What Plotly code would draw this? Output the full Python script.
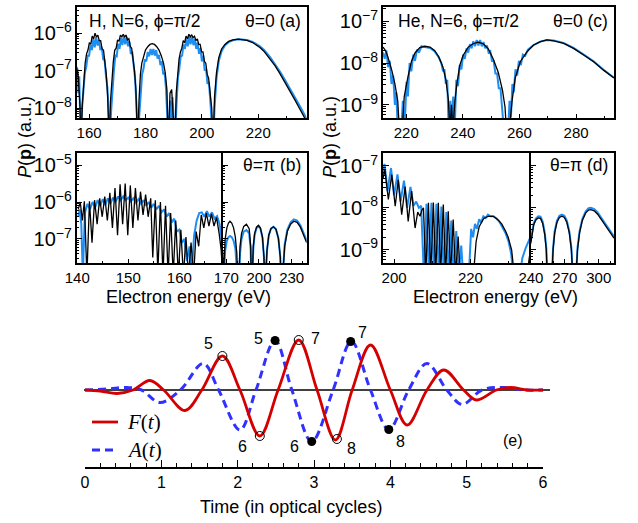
import plotly.graph_objects as go

# ---------------- data (log10 of P in a.u.) ----------------
# panel (a): H, theta=0
a_E_blue = [155.6, 155.9, 156.2, 156.5, 156.8, 157.0, 157.5, 158.0, 158.5, 159.0,
            159.5, 160.0, 160.5, 161.0, 161.5, 162.0, 162.5, 163.0, 163.5, 164.0,
            164.5, 165.0, 165.5, 166.0, 166.5, 167.0, 167.3, 167.8, 168.3, 168.8,
            169.3, 169.8, 170.3, 170.8, 171.3, 171.8, 172.3, 172.8, 173.3, 173.8,
            174.3, 174.8, 175.3, 175.8, 176.3, 176.8, 177.3, 177.8, 178.3, 178.8,
            179.3, 179.8, 180.3, 180.8, 181.3, 181.8, 182.3, 182.8, 183.3, 183.8,
            184.3, 184.8, 185.3, 185.8, 186.3, 186.8, 187.3, 187.8, 188.2, 188.7,
            189.2, 189.6, 190.1, 190.5, 191.0, 191.5, 192.0, 192.5, 193.0, 193.5,
            194.0, 194.5, 195.0, 195.5, 196.0, 196.5, 197.0, 197.5, 198.0, 198.5,
            199.0, 199.5, 200.0, 200.5, 201.0, 201.5, 202.0, 202.5, 203.0, 203.5,
            204.0, 204.5, 205.2, 206.0, 207.0, 208.2, 209.5, 211.0, 213.0, 216.0,
            218.0, 220.6, 222.0, 224.2, 226.0, 227.7, 229.5, 231.3, 233.0, 234.8,
            236.6, 237.2]
a_logP_blue = [-7.3, -6.95, -7.6, -7.15, -8.1, -9.0, -8.0, -7.5, -7.05, -6.9,
               -6.6, -6.6, -6.32, -6.45, -6.15, -6.38, -6.1, -6.33, -6.18, -6.45,
               -6.38, -6.7, -6.72, -7.15, -7.45, -8.2, -9.0, -8.1, -7.4, -7.0,
               -6.6, -6.62, -6.28, -6.42, -6.13, -6.32, -6.08, -6.3, -6.1, -6.35,
               -6.22, -6.55, -6.5, -6.9, -7.2, -7.9, -9.0, -8.2, -7.5, -7.1,
               -6.95, -6.7, -6.75, -6.5, -6.62, -6.42, -6.58, -6.42, -6.6, -6.45,
               -6.68, -6.58, -6.85, -6.75, -7.1, -7.05, -7.5, -8.2, -9.0, -7.8,
               -8.3, -7.7, -9.0, -9.0, -7.9, -7.2, -6.95, -6.62, -6.6, -6.3,
               -6.42, -6.15, -6.35, -6.1, -6.3, -6.1, -6.32, -6.15, -6.42, -6.25,
               -6.55, -6.4, -6.75, -6.6, -7.0, -6.95, -7.35, -7.3, -7.8, -8.3,
               -9.0, -8.0, -7.2, -6.75, -6.48, -6.32, -6.24, -6.19, -6.16, -6.18,
               -6.23, -6.35, -6.44, -6.64, -6.82, -7.02, -7.25, -7.48, -7.7, -7.95,
               -8.2, -8.3]
a_E_black = [155.6, 156.2, 156.8, 157.1, 157.6, 158.1, 158.6, 159.1, 159.6, 160.1,
             160.6, 161.1, 161.6, 162.1, 162.6, 163.1, 163.6, 164.1, 164.6, 165.1,
             165.6, 166.1, 166.6, 167.1, 167.6, 168.1, 168.6, 169.1, 169.6, 170.1,
             170.6, 171.1, 171.6, 172.1, 172.6, 173.1, 173.6, 174.1, 174.6, 175.1,
             175.6, 176.1, 176.6, 177.2, 177.7, 178.2, 178.7, 179.3, 180.0, 180.8,
             181.6, 182.4, 183.2, 184.0, 184.8, 185.6, 186.4, 187.0, 187.6, 188.1,
             188.7, 189.3, 189.8, 190.4, 190.9, 191.4, 191.9, 192.4, 192.9, 193.4,
             193.9, 194.4, 194.9, 195.4, 195.9, 196.4, 196.9, 197.4, 197.9, 198.4,
             198.9, 199.4, 199.9, 200.4, 200.9, 201.4, 201.9, 202.4, 202.9, 203.5,
             204.0, 204.5, 205.2, 206.0, 207.0, 208.2, 209.5, 211.0, 213.0, 216.0,
             218.0, 220.6, 222.0, 224.2, 226.0, 227.7, 229.5, 231.3, 233.0, 234.8,
             236.6, 237.2]
a_logP_black = [-6.9, -7.2, -8.0, -9.0, -7.9, -7.2, -6.8, -6.55, -6.45, -6.25,
                -6.3, -6.08, -6.15, -6.0, -6.1, -6.05, -6.2, -6.2, -6.42, -6.45,
                -6.8, -7.1, -7.7, -9.0, -7.8, -7.1, -6.75, -6.45, -6.4, -6.18,
                -6.22, -6.05, -6.1, -6.03, -6.1, -6.05, -6.18, -6.15, -6.35, -6.4,
                -6.7, -7.0, -7.5, -9.0, -7.8, -7.1, -6.8, -6.6, -6.45, -6.36,
                -6.3, -6.28, -6.3, -6.36, -6.45, -6.6, -6.8, -7.05, -7.5, -9.0,
                -7.6, -7.5, -7.9, -9.0, -7.6, -7.0, -6.7, -6.5, -6.4, -6.2,
                -6.25, -6.08, -6.15, -6.03, -6.1, -6.04, -6.12, -6.08, -6.2, -6.15,
                -6.3, -6.3, -6.5, -6.5, -6.75, -6.8, -7.1, -7.2, -7.5, -8.0,
                -9.0, -7.7, -7.05, -6.65, -6.42, -6.3, -6.22, -6.18, -6.16, -6.19,
                -6.25, -6.38, -6.48, -6.68, -6.87, -7.08, -7.31, -7.55, -7.78, -8.03,
                -8.28, -8.36]

# panel (b): H, theta=pi  (left part and compressed right part)
bL_E_black = [140.2, 140.6, 141.0, 141.4, 141.9, 142.4, 142.9, 143.4, 143.9, 144.4,
              144.9, 145.4, 145.9, 146.4, 146.9, 147.4, 147.9, 148.4, 148.9, 149.4,
              149.9, 150.4, 150.9, 151.4, 151.9, 152.4, 152.9, 153.4, 153.9, 154.4,
              154.8, 155.3, 155.8, 156.3, 156.8, 157.3, 157.8, 158.3, 158.8, 159.3,
              159.8, 160.3, 160.8, 161.3, 161.8, 162.3, 162.8, 163.3, 163.8, 164.3,
              164.8, 165.3, 165.8, 166.3, 166.8, 167.3, 167.8, 168.2, 168.5]
bL_logP_black = [-6.2, -6.0, -6.5, -5.98, -8.0, -5.98, -7.1, -5.95, -6.6, -5.9,
                 -6.4, -5.85, -6.5, -5.75, -6.7, -5.62, -6.9, -5.52, -6.6, -5.5,
                 -6.9, -5.55, -6.7, -5.62, -6.5, -5.72, -6.35, -5.8, -6.4, -5.9,
                 -7.5, -5.95, -7.9, -6.0, -8.0, -6.1, -8.0, -6.3, -8.0, -6.5,
                 -8.0, -6.75, -8.0, -6.95, -8.0, -7.1, -8.0, -6.8, -7.2, -6.35,
                 -6.7, -6.3, -6.65, -6.32, -6.65, -6.42, -6.85, -7.3, -8.0]
bL_E_blue = [140.2, 140.5, 140.8, 141.1, 141.5, 142.0, 142.5, 143.0, 143.5, 144.0,
             144.5, 145.0, 145.5, 146.0, 146.5, 147.0, 147.5, 148.0, 148.5, 149.0,
             149.5, 150.0, 150.5, 151.0, 151.5, 152.0, 152.5, 153.0, 153.5, 154.0,
             154.5, 155.0, 155.5, 156.0, 156.5, 157.0, 157.5, 158.0, 158.5, 159.0,
             159.5, 160.0, 160.5, 161.0, 161.5, 162.0, 162.4, 162.9, 163.4, 163.9,
             164.4, 164.9, 165.4, 165.9, 166.4, 166.9, 167.4, 167.9, 168.2, 168.5]
bL_logP_blue = [-6.4, -6.2, -6.6, -8.0, -6.3, -6.05, -6.2, -6.0, -6.15, -5.95,
                -6.1, -5.92, -6.08, -5.9, -6.05, -5.88, -6.0, -5.85, -5.95, -5.85,
                -5.95, -5.88, -5.98, -5.9, -6.02, -5.92, -6.05, -5.95, -6.1, -6.0,
                -6.15, -6.05, -6.2, -6.1, -6.28, -6.2, -6.4, -6.3, -6.55, -6.45,
                -6.8, -6.75, -7.1, -7.0, -7.6, -7.2, -8.0, -6.9, -6.5, -6.3,
                -6.28, -6.4, -6.25, -6.4, -6.28, -6.45, -6.38, -6.6, -6.9, -7.4]
bR_E = [166.7, 167.2, 168.0, 169.0, 170.5, 172.0, 173.4, 175.0, 176.7, 178.3,
        179.7, 180.6, 181.0, 181.6, 182.6, 184.0, 186.0, 188.5, 191.0, 192.4,
        193.0, 193.4, 193.9, 194.8, 196.0, 197.8, 199.5, 201.3, 203.2, 204.6,
        205.3, 205.6, 206.2, 207.4, 209.0, 211.0, 213.3, 215.6, 217.8, 219.6,
        220.6, 221.0, 221.8, 223.6, 226.0, 229.0, 232.0, 235.0, 238.0, 241.0,
        243.8]
bR_logP_black = [-7.3, -9.0, -7.6, -7.0, -6.7, -6.57, -6.52, -6.57, -6.7, -6.95,
                 -7.4, -8.0, -9.0, -8.0, -7.2, -6.85, -6.66, -6.6, -6.72, -7.2,
                 -8.0, -9.0, -8.0, -7.2, -6.85, -6.68, -6.63, -6.7, -6.95, -7.5,
                 -8.5, -9.0, -8.0, -7.3, -6.9, -6.72, -6.67, -6.74, -6.98, -7.5,
                 -8.5, -9.0, -8.0, -7.2, -6.8, -6.6, -6.52, -6.55, -6.68, -6.88,
                 -7.1]
bR_logP_blue = [-7.6, -9.0, -7.9, -7.3, -7.05, -6.95, -6.92, -6.95, -7.05, -7.25,
                -7.6, -8.2, -9.0, -8.2, -7.4, -7.0, -6.8, -6.76, -6.85, -7.3,
                -8.1, -9.0, -8.0, -7.25, -6.9, -6.7, -6.66, -6.72, -6.97, -7.5,
                -8.5, -9.0, -8.0, -7.3, -6.9, -6.72, -6.67, -6.74, -6.98, -7.5,
                -8.5, -9.0, -8.0, -7.15, -6.75, -6.55, -6.47, -6.5, -6.63, -6.83,
                -7.05]

# panel (c): He, theta=0
c_E_black = [211.8, 212.7, 213.5, 214.2, 215.0, 216.0, 217.0, 217.6, 218.6, 219.3,
             220.0, 220.7, 221.9, 223.1, 224.8, 226.6, 228.4, 230.0, 231.5, 233.0,
             234.0, 234.9, 235.4, 236.0, 236.5, 237.2, 237.9, 238.9, 240.1, 241.9,
             243.6, 245.4, 247.2, 249.0, 250.7, 252.5, 254.0, 254.9, 255.4, 256.4,
             257.4, 258.5, 260.3, 262.7, 265.0, 267.4, 269.7, 272.1, 275.6, 279.1,
             282.7, 286.2, 289.7, 293.4]
c_logP_black = [-7.62, -7.7, -7.85, -8.0, -8.2, -8.5, -8.9, -9.6, -9.6, -8.8,
                -8.5, -8.3, -7.95, -7.76, -7.63, -7.6, -7.62, -7.7, -7.85, -8.1,
                -8.4, -8.87, -9.6, -9.0, -9.6, -8.9, -8.5, -8.06, -7.82, -7.62,
                -7.54, -7.5, -7.54, -7.66, -7.9, -8.22, -8.65, -9.05, -9.6, -9.6,
                -8.9, -8.36, -7.97, -7.73, -7.57, -7.49, -7.45, -7.47, -7.53, -7.65,
                -7.81, -7.97, -8.17, -8.36]
c_E_blue = [211.8, 212.4, 213.0, 213.6, 214.2, 214.8, 215.4, 216.0, 216.5, 217.0,
            218.3, 218.8, 219.4, 220.1, 220.6, 221.2, 221.8, 222.5, 223.1, 223.8,
            224.5, 225.4, 226.6, 228.4, 230.0, 231.5, 232.4, 233.0, 233.5, 234.0,
            234.5, 235.0, 235.6, 236.0, 236.6, 237.1, 237.7, 238.3, 238.9, 239.5,
            240.1, 240.7, 241.3, 241.9, 242.5, 243.1, 243.7, 244.3, 244.9, 245.5,
            246.1, 246.7, 247.3, 247.9, 248.5, 249.1, 249.7, 250.3, 250.9, 251.5,
            252.1, 252.7, 253.3, 253.9, 254.5, 256.0, 256.5, 257.0, 257.5, 258.0,
            258.6, 259.2, 259.8, 260.5, 261.2, 262.0, 263.0, 265.0, 267.4, 269.7,
            272.1, 275.6, 279.1, 282.7, 286.2, 289.7, 293.4]
c_logP_blue = [-7.75, -7.9, -7.7, -8.1, -7.95, -8.5, -8.3, -9.0, -8.7, -9.6,
               -9.6, -8.9, -9.6, -8.45, -8.8, -8.0, -8.2, -7.8, -7.95, -7.68,
               -7.75, -7.6, -7.62, -7.64, -7.72, -7.87, -8.0, -8.2, -8.15, -8.5,
               -8.4, -9.6, -8.9, -9.6, -8.8, -9.6, -8.4, -8.55, -8.05, -8.15,
               -7.8, -7.9, -7.65, -7.75, -7.55, -7.65, -7.48, -7.6, -7.45, -7.58,
               -7.45, -7.6, -7.5, -7.65, -7.58, -7.75, -7.72, -7.95, -7.95, -8.25,
               -8.25, -8.6, -8.6, -9.1, -9.6, -9.6, -8.9, -9.3, -8.5, -8.7,
               -8.15, -8.3, -7.95, -8.05, -7.8, -7.83, -7.68, -7.57, -7.49, -7.45,
               -7.46, -7.52, -7.64, -7.8, -7.96, -8.16, -8.35]

# panel (d): He, theta=pi
dL_E_black = [197.1, 197.6, 198.5, 199.4, 200.3, 201.1, 202.0, 202.9, 203.7, 204.6,
              205.5, 206.2, 206.8, 207.3, 207.7, 208.3, 209.0, 209.6, 210.3, 210.9,
              211.6, 212.2, 212.9, 213.5, 214.2, 214.8, 215.5, 216.1, 216.8, 217.3,
              220.8, 221.5, 222.3, 223.5, 224.7, 226.0, 227.2, 228.2, 229.2, 229.9,
              230.8, 231.5, 234.8, 235.3, 235.8]
dL_logP_black = [-7.3, -7.09, -7.8, -7.21, -7.96, -7.33, -8.16, -7.49, -8.32, -7.6,
                 -8.48, -8.1, -8.2, -8.05, -8.0, -9.6, -7.88, -9.6, -7.87, -9.6,
                 -7.88, -9.6, -7.92, -9.6, -8.08, -9.6, -8.28, -9.6, -8.68, -9.6,
                 -9.6, -8.8, -8.45, -8.25, -8.2, -8.2, -8.28, -8.38, -8.55, -8.7,
                 -9.0, -9.6, -9.6, -9.2, -8.95]
dL_E_blue = [197.1, 197.5, 198.3, 199.2, 200.0, 200.9, 201.7, 202.6, 203.4, 204.3,
             205.1, 205.8, 206.5, 207.1, 207.8, 208.5, 209.1, 209.8, 210.4, 211.1,
             211.7, 212.4, 213.0, 213.7, 214.3, 215.0, 215.6, 216.3, 216.9, 217.6,
             218.1, 219.6, 220.2, 220.7, 221.2, 221.7, 222.3, 222.8, 223.4, 224.0,
             224.6, 225.3, 226.0, 226.8, 227.6, 228.4, 229.2, 230.0, 230.7, 231.2,
             233.0, 233.6, 234.5, 235.8]
dL_logP_blue = [-7.2, -6.95, -7.6, -7.05, -7.7, -7.2, -7.85, -7.35, -8.0, -7.5,
                -7.95, -7.85, -8.0, -7.95, -9.6, -7.9, -9.6, -7.88, -9.6, -7.9,
                -9.6, -7.97, -9.6, -8.1, -9.6, -8.3, -9.6, -8.55, -9.6, -8.9,
                -9.6, -9.6, -8.5, -8.7, -8.38, -8.5, -8.27, -8.35, -8.2, -8.24,
                -8.16, -8.2, -8.2, -8.25, -8.33, -8.45, -8.6, -8.8, -9.1, -9.6,
                -9.6, -9.2, -8.95, -8.68]
dR_E = [239.8, 241.0, 242.5, 244.5, 246.5, 248.5, 250.5, 252.3, 253.6, 254.4,
        258.6, 259.6, 261.0, 263.0, 265.2, 267.4, 269.6, 271.8, 274.0, 275.8,
        277.0, 280.0, 281.2, 283.0, 285.5, 288.5, 291.0, 293.1, 296.0, 299.0,
        302.0, 305.0, 308.0, 311.0, 313.5]
dR_logP_black = [-8.85, -8.6, -8.4, -8.28, -8.24, -8.25, -8.38, -8.65, -9.0, -9.6,
                 -9.6, -9.0, -8.6, -8.35, -8.23, -8.2, -8.23, -8.35, -8.6, -9.0,
                 -9.6, -9.6, -9.0, -8.6, -8.3, -8.12, -8.05, -8.04, -8.07, -8.15,
                 -8.27, -8.4, -8.52, -8.64, -8.72]
dR_logP_blue = [-8.8, -8.56, -8.36, -8.25, -8.2, -8.21, -8.34, -8.6, -8.95, -9.6,
                -9.6, -8.95, -8.56, -8.31, -8.19, -8.16, -8.19, -8.31, -8.56, -8.95,
                -9.6, -9.6, -8.95, -8.56, -8.26, -8.08, -8.01, -8.0, -8.03, -8.11,
                -8.23, -8.36, -8.48, -8.6, -8.68]

# panel (e): field F(t) and vector potential A(t)
F_t = [0.0, 0.2, 0.42, 0.63, 0.85, 1.03, 1.31, 1.53, 1.80, 2.03, 2.29, 2.53, 2.80,
       3.04, 3.28, 3.50, 3.74, 4.0, 4.22, 4.48, 4.70, 4.96, 5.13, 5.39, 5.57, 5.8, 6.0]
F_v = [0.0, -0.02, -0.07, 0.0, 0.19, 0.0, -0.41, 0.0, 0.68, 0.0, -0.92, 0.0, 1.0,
       0.0, -1.0, 0.0, 0.9, 0.0, -0.70, 0.0, 0.40, 0.0, -0.20, 0.0, 0.05, 0.0, 0.0]
A_t = [0.0, 0.3, 0.55, 0.74, 0.98, 1.25, 1.55, 1.75, 2.03, 2.24, 2.49, 2.71, 2.97,
       3.25, 3.49, 3.74, 3.98, 4.24, 4.48, 4.74, 4.94, 5.2, 5.48, 5.75, 6.0]
A_v = [0.0, 0.02, 0.05, 0.0, -0.25, 0.0, 0.53, 0.0, -0.80, 0.0, 0.99, 0.0, -1.03,
       0.0, 0.97, 0.0, -0.79, 0.0, 0.53, 0.0, -0.29, 0.0, 0.05, 0.0, 0.0]
F_mark_t = [1.80, 2.29, 2.80, 3.30]
F_mark_v = [0.68, -0.92, 1.0, -0.98]
F_mark_lab = ["5", "6", "7", "8"]
A_mark_t = [2.49, 2.97, 3.48, 3.98]
A_mark_v = [0.99, -1.03, 0.97, -0.79]
A_mark_lab = ["5", "6", "7", "8"]
e_ticks = [0, 1, 2, 3, 4, 5, 6]

# ---------------- figure ----------------
W, H = 638, 523
FONT = "Liberation Sans, Arial, sans-serif"
BLUE = "#1f8ef1"
BLACK = "#000000"


def px_x(p):
    return p / W


def px_y(p):
    return 1 - p / H


def pw(vals):
    return [10 ** v for v in vals]


fig = go.Figure()


def add_pair(E_blue, lb, E_black, lk, xa, ya):
    fig.add_trace(go.Scatter(x=E_blue, y=pw(lb), mode="lines", xaxis=xa, yaxis=ya,
                             line=dict(color=BLUE, width=2), showlegend=False))
    fig.add_trace(go.Scatter(x=E_black, y=pw(lk), mode="lines", xaxis=xa, yaxis=ya,
                             line=dict(color=BLACK, width=1.3), showlegend=False))


add_pair(a_E_blue, a_logP_blue, a_E_black, a_logP_black, "x", "y")
add_pair(c_E_blue, c_logP_blue, c_E_black, c_logP_black, "x2", "y2")
add_pair(bL_E_blue, bL_logP_blue, bL_E_black, bL_logP_black, "x3", "y3")
add_pair(bR_E, bR_logP_blue, bR_E, bR_logP_black, "x4", "y4")
add_pair(dL_E_blue, dL_logP_blue, dL_E_black, dL_logP_black, "x5", "y5")
add_pair(dR_E, dR_logP_blue, dR_E, dR_logP_black, "x6", "y6")

# panel (e)
fig.add_trace(go.Scatter(x=A_t, y=A_v, mode="lines", xaxis="x7", yaxis="y7",
                         line=dict(color="#3030ff", width=3, dash="8px,5px", shape="spline", smoothing=1.0),
                         showlegend=False))
fig.add_trace(go.Scatter(x=F_t, y=F_v, mode="lines", xaxis="x7", yaxis="y7",
                         line=dict(color="#d40000", width=2.8, shape="spline", smoothing=1.0),
                         showlegend=False))
fig.add_trace(go.Scatter(x=F_mark_t, y=F_mark_v, mode="markers", xaxis="x7", yaxis="y7",
                         marker=dict(symbol="circle-open", size=9, color="black", line=dict(width=1)),
                         showlegend=False))
fig.add_trace(go.Scatter(x=A_mark_t, y=A_mark_v, mode="markers", xaxis="x7", yaxis="y7",
                         marker=dict(symbol="circle", size=9, color="black"),
                         showlegend=False))

tickfont_x = dict(family=FONT, size=15, color="black")
tickfont_y = dict(family=FONT, size=16, color="black")


def xax(x0, x1, y_anchor, rng, dtick, tick0, mdtick):
    return dict(domain=[px_x(x0), px_x(x1)], anchor=y_anchor, range=rng, automargin=False,
                showline=True, linecolor="black", linewidth=1.5, mirror=True,
                ticks="inside", ticklen=5, tickwidth=1, tickcolor="black",
                dtick=dtick, tick0=tick0, tickfont=tickfont_x,
                showgrid=False, zeroline=False,
                minor=dict(ticks="inside", ticklen=3, dtick=mdtick, tick0=tick0,
                           tickcolor="black", showgrid=False))


def yax(y0, y1, x_anchor, rng, labels=True, mirror=True):
    return dict(domain=[px_y(y1), px_y(y0)], anchor=x_anchor, type="log", range=rng,
                automargin=False,
                showline=True, linecolor="black", linewidth=1.5, mirror=mirror,
                ticks="inside", ticklen=6, tickwidth=1, tickcolor="black",
                dtick=1, exponentformat="power", showexponent="all",
                showticklabels=labels, tickfont=tickfont_y,
                showgrid=False, zeroline=False,
                minor=dict(ticks="inside", ticklen=3, dtick="D1", tickcolor="black", showgrid=False))


layout = dict(
    width=W, height=H, autosize=False,
    margin=dict(l=0, r=0, t=0, b=0, pad=0),
    paper_bgcolor="white", plot_bgcolor="white",
    showlegend=False,
    xaxis=xax(76.7, 306.7, "y", [155.6, 237.2], 20, 160, 10),
    yaxis=yax(7.3, 118.3, "x", [-8.27, -5.31]),
    xaxis2=xax(383, 614, "y2", [211.8, 293.4], 20, 220, 10),
    yaxis2=yax(7.3, 118.3, "x2", [-9.32, -6.67]),
    xaxis3=xax(76.7, 222.7, "y3", [139.9, 168.5], 10, 140, 5),
    yaxis3=yax(153.3, 263.3, "x3", [-7.66, -4.68], mirror=False),
    xaxis4=xax(222.7, 306.7, "y4", [166.7, 243.8], 30, 170, 10),
    yaxis4=yax(153.3, 263.3, "x4", [-7.66, -4.68], labels=False),
    xaxis5=xax(383, 530.7, "y5", [197.1, 235.8], 20, 200, 10),
    yaxis5=yax(153.3, 263.3, "x5", [-9.32, -6.70], mirror=False),
    xaxis6=xax(530.7, 614, "y6", [239.8, 313.5], 30, 240, 10),
    yaxis6=yax(153.3, 263.3, "x6", [-9.32, -6.70], labels=False),
    xaxis7=dict(domain=[px_x(85), px_x(543)], anchor="y7", range=[0, 6], automargin=False,
                showline=True, linecolor="black", linewidth=1.5, mirror=False,
                ticks="inside", ticklen=7, tickwidth=1, tickcolor="black",
                tickvals=e_ticks, tickfont=dict(family=FONT, size=16, color="black"),
                showgrid=False, zeroline=False,
                minor=dict(ticks="inside", ticklen=4, dtick=0.2, tick0=0,
                           tickcolor="black", showgrid=False)),
    yaxis7=dict(domain=[px_y(467), px_y(320)], anchor="x7", range=[-1.54, 1.4],
                automargin=False, visible=False, showgrid=False, zeroline=False),
)
fig.update_layout(**layout)

ann = []


def txt(x, y, s, size=16, xanchor="center", yanchor="middle", angle=0, family=FONT):
    ann.append(dict(x=px_x(x), y=px_y(y), xref="paper", yref="paper", text=s,
                    showarrow=False, xanchor=xanchor, yanchor=yanchor, textangle=angle,
                    font=dict(family=family, size=size, color="black")))


txt(87, 21, "H, N=6, ϕ=π/2", 17.5, xanchor="left")
txt(303, 21, "θ=0 (a)", 17.5, xanchor="right")
txt(396, 21, "He, N=6, ϕ=π/2", 17.5, xanchor="left")
txt(610, 21, "θ=0 (c)", 17.5, xanchor="right")
txt(303, 165, "θ=π (b)", 17.5, xanchor="right")
txt(610, 165, "θ=π (d)", 17.5, xanchor="right")
txt(25, 137, "<i>P</i>(<b>p</b>) (a.u.)", 18, angle=-90)
txt(330, 137, "<i>P</i>(<b>p</b>) (a.u.)", 18, angle=-90)
txt(188, 297, "Electron energy (eV)", 18)
txt(495, 297, "Electron energy (eV)", 18)
txt(291, 507, "Time (in optical cycles)", 18)
txt(513, 440, "(e)", 16)
txt(125, 422, "<i>F</i>(<i>t</i>)", 21, xanchor="left", family="Liberation Serif, serif")
txt(125, 450, "<i>A</i>(<i>t</i>)", 21, xanchor="left", family="Liberation Serif, serif")

# marker labels, anchored on the markers with pixel offsets
F_off = [(-14, 13), (-17, -10), (17, 2), (15, -9)]
A_off = [(-17, 2), (-17, -5), (12, 9), (12, -12)]
for t, v, s, (dx, dy) in zip(F_mark_t, F_mark_v, F_mark_lab, F_off):
    ann.append(dict(x=t, y=v, xref="x7", yref="y7", text=s, showarrow=False,
                    xshift=dx, yshift=dy, font=dict(family=FONT, size=16, color="black")))
for t, v, s, (dx, dy) in zip(A_mark_t, A_mark_v, A_mark_lab, A_off):
    ann.append(dict(x=t, y=v, xref="x7", yref="y7", text=s, showarrow=False,
                    xshift=dx, yshift=dy, font=dict(family=FONT, size=16, color="black")))
fig.update_layout(annotations=ann)

shapes = [
    dict(type="line", xref="paper", yref="y7", x0=px_x(84), x1=px_x(550), y0=0, y1=0,
         line=dict(color="black", width=1.5), layer="below"),
    dict(type="line", xref="paper", yref="paper", x0=px_x(92), x1=px_x(118),
         y0=px_y(422), y1=px_y(422), line=dict(color="#d40000", width=2.8)),
    dict(type="line", xref="paper", yref="paper", x0=px_x(92), x1=px_x(118),
         y0=px_y(450), y1=px_y(450), line=dict(color="#3030ff", width=3, dash="8px,5px")),
]
fig.update_layout(shapes=shapes)

# remove the default 8px page margin so the figure sits at the window origin
fig.write_html("out.html", config={"displayModeBar": False},
               post_script="document.body.style.margin='0';document.body.style.overflow='hidden';")
